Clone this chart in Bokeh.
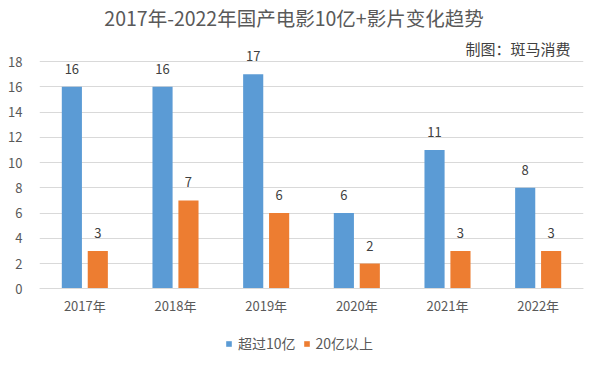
from bokeh.plotting import figure
from bokeh.models import (ColumnDataSource, FactorRange, Range1d, FixedTicker,
                          Legend, LegendItem, Label, LabelSet)
from bokeh.transform import dodge
from bokeh.embed import file_html
from bokeh.resources import INLINE
from bokeh.core.properties import value

years = ["2017年", "2018年", "2019年", "2020年", "2021年", "2022年"]
over_10 = [16, 16, 17, 6, 11, 8]
over_20 = [3, 7, 6, 2, 3, 3]
series_names = ["超过10亿", "20亿以上"]
y_ticks = [0, 2, 4, 6, 8, 10, 12, 14, 16, 18]
title_text = "2017年-2022年国产电影10亿+影片变化趋势"
credit_text = "制图：斑马消费"

FONT = "Noto Sans CJK SC"
BLUE = "#5B9BD5"
ORANGE = "#ED7D31"
TXT = "#595959"

src = ColumnDataSource(dict(
    year=years, a=over_10, b=over_20,
    a_lbl=[str(v) for v in over_10], b_lbl=[str(v) for v in over_20]))

W, H = 602, 368
LEFT, RIGHT = 39, 19
zero_px = 288.3          # zero line, from the top of the figure
px_per_unit = 227.3 / 18
y_min = -(H - zero_px) / px_per_unit
y_max = zero_px / px_per_unit

p = figure(width=W, height=H, x_range=FactorRange(*years),
           y_range=Range1d(y_min, y_max), output_backend="svg",
           toolbar_location=None,
           min_border_left=LEFT, min_border_right=RIGHT, min_border_top=0,
           min_border_bottom=0)
p.outline_line_color = None
p.xgrid.grid_line_color = None
p.ygrid.grid_line_color = "#D9D9D9"
p.ygrid.grid_line_width = 1

p.yaxis.ticker = FixedTicker(ticks=y_ticks)
p.yaxis.axis_line_color = None
p.yaxis.major_tick_line_color = None
p.yaxis.minor_tick_line_color = None
p.yaxis.major_label_standoff = 11
p.yaxis.major_label_text_font = FONT
p.yaxis.major_label_text_font_size = "13px"
p.yaxis.major_label_text_color = TXT

p.xaxis.fixed_location = 0
p.xaxis.axis_line_color = "#D9D9D9"
p.xaxis.major_tick_line_color = None
p.xaxis.minor_tick_line_color = None
p.xaxis.major_label_standoff = 1
p.xaxis.major_label_text_font = FONT
p.xaxis.major_label_text_font_size = "13px"
p.xaxis.major_label_text_color = TXT

off = 0.143
w = 0.222
r1 = p.vbar(x=dodge("year", -off, range=p.x_range), top="a", bottom=0, width=w,
            source=src, fill_color=BLUE, line_color=None)
r2 = p.vbar(x=dodge("year", off, range=p.x_range), top="b", bottom=0, width=w,
            source=src, fill_color=ORANGE, line_color=None)

for col, lbl, dx in (("a", "a_lbl", -off), ("b", "b_lbl", off)):
    ls = LabelSet(x=dodge("year", dx, range=p.x_range), y=col, text=lbl,
                  source=src, text_align="center", text_baseline="middle",
                  y_offset=18, text_font=value(FONT), text_font_size="13px",
                  text_color="#404040")
    p.add_layout(ls)

legend = Legend(items=[LegendItem(label=series_names[0], renderers=[r1]),
                       LegendItem(label=series_names[1], renderers=[r2])],
                orientation="horizontal", location=(186, 15),
                glyph_width=7, glyph_height=7, label_standoff=6, spacing=7,
                padding=0, margin=0, border_line_color=None,
                background_fill_alpha=0, label_text_font=FONT,
                label_text_font_size="14px", label_text_color=TXT,
                label_height=20)
p.add_layout(legend, "center")

p.add_layout(Label(x=254.5, y=H - 17, x_units="screen", y_units="screen",
                   text=title_text, text_align="center", text_baseline="middle",
                   text_font=FONT, text_font_size="19.5px", text_color=TXT))
p.add_layout(Label(x=531, y=H - 48, x_units="screen", y_units="screen",
                   text=credit_text, text_align="right", text_baseline="middle",
                   text_font=FONT, text_font_size="15px", text_color="#404040"))

open("out.html", "w").write(file_html(p, INLINE))
